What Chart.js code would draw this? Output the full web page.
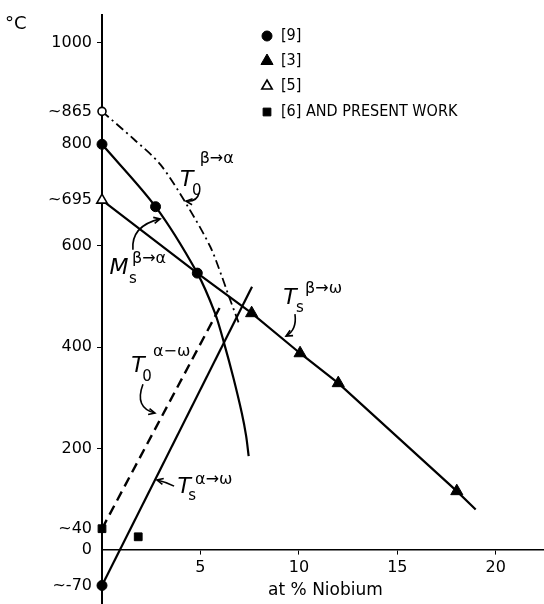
<!DOCTYPE html>
<html><head><meta charset="utf-8">
<script src="https://cdn.jsdelivr.net/npm/chart.js@4"></script>
<style>html,body{margin:0;padding:0;background:#fff}#wrap{width:544px;height:604px;position:relative}</style>
</head><body><div id="wrap"><canvas id="c"></canvas></div>
<script>
// ---- data ----
const xTickValues = [5, 10, 15, 20];
const yTickValues = [-70, 0, 42, 200, 400, 600, 690, 800, 865, 1000];
const yTickLabels = ['~-70', '0', '~40', '200', '400', '600', '~695', '800', '~865', '1000'];
const xTitle = 'at % Niobium';
const yUnit = '°C';

const msX = [0, 2.72, 4.84, 5.74, 6.2, 6.67, 7.1, 7.32, 7.45];
const msY = [800, 677, 546, 467, 408, 340, 270, 225, 185];
const t0baX = [0, 1.62, 2.97, 4.32, 5.5, 6.1, 6.4, 6.98];
const t0baY = [865, 810, 760, 680, 598, 538, 505, 444];
const tsbwX = [0, 4.84, 7.6, 10.06, 12.0, 18.02, 18.98];
const tsbwY = [690, 546, 467, 388, 329, 116, 80];
const t0awX = [0, 6.05];
const t0awY = [42, 483];
const tsawX = [0, 7.62];
const tsawY = [-70, 519];

const ref9X = [0, 2.72, 4.84, 0];
const ref9Y = [800, 677, 546, -70];
const ref3X = [7.6, 10.06, 12.0, 18.02];
const ref3Y = [467, 388, 329, 116];
const ref5X = [0];
const ref5Y = [690];
const ref6X = [0, 1.84];
const ref6Y = [42, 26];
const openX = [0];
const openY = [865];

const legendLabels = ['[9]', '[3]', '[5]', '[6] AND PRESENT WORK'];

// curve labels: main letter, subscript, superscript, anchor in data units
const curveLabels = [
  {main: 'T', sub: '0', sup: 'β→α', at: [4.30, 730], so: [10, 11], po: [13, -21]},
  {main: 'M', sub: 's', sup: 'β→α', at: [0.86, 556], so: [14, 11], po: [13, -9]},
  {main: 'T', sub: 's', sup: 'β→ω', at: [9.55, 497], so: [10, 10], po: [15, -9]},
  {main: 'T', sub: '0', sup: 'α−ω', at: [1.83, 363], so: [9, 11], po: [15, -14]},
  {main: 'T', sub: 's', sup: 'α→ω', at: [4.17, 124], so: [8, 9], po: [11, -7]}
];
// arrows: start, control, end in data units
const arrows = [
  [[4.93, 704], [4.82, 686], [4.27, 688]],
  [[1.57, 592], [1.47, 639], [2.95, 653]],
  [[9.80, 465], [9.91, 434], [9.35, 422]],
  [[2.08, 327], [1.63, 280], [2.69, 270]],
  [[3.66, 126], [3.25, 134], [2.79, 138]]
];

const zip = (xs, ys) => xs.map((v, i) => ({x: v, y: ys[i]}));
const FONT = "'DejaVu Sans', sans-serif";
const CFONT = "'DejaVu Sans Condensed', 'Liberation Sans Narrow', 'DejaVu Sans', sans-serif";

function lineDs(xs, ys, dash, width, tension) {
  return {data: zip(xs, ys), showLine: true, borderColor: '#000', borderWidth: width,
    borderDash: dash, pointRadius: 0, tension: tension, fill: false, clip: false, order: 2};
}
function markDs(xs, ys, style, r, filled) {
  return {data: zip(xs, ys), showLine: false, pointStyle: style, pointRadius: r,
    pointBackgroundColor: filled ? '#000' : '#fff', pointBorderColor: '#000',
    pointBorderWidth: filled ? 1 : 1.6, clip: false, order: 1};
}

const overlay = {
  id: 'overlay',
  afterDraw(chart) {
    const {ctx, scales: {x, y}} = chart;
    const P = (p) => [x.getPixelForValue(p[0]), y.getPixelForValue(p[1])];
    ctx.save();
    ctx.fillStyle = '#000'; ctx.strokeStyle = '#000';
    // unit
    ctx.font = '18px ' + FONT; ctx.textAlign = 'left'; ctx.textBaseline = 'middle';
    ctx.fillText(yUnit, 5, 24);
    // x title
    ctx.font = '17px ' + FONT;
    ctx.textAlign = 'center';
    ctx.fillText(xTitle, x.getPixelForValue(11.35), y.getPixelForValue(0) + 41);
    // legend
    const styles = [['circle', 5, true], ['triangle', 7, true], ['triangle', 6, false], ['rect', 5.5, true]];
    const rows = [36, 61, 86, 112];
    legendLabels.forEach((t, i) => {
      const [st, r, f] = styles[i];
      ctx.fillStyle = f ? '#000' : '#fff'; ctx.lineWidth = f ? 1 : 1.6; ctx.strokeStyle = '#000';
      Chart.helpers.drawPoint(ctx, {pointStyle: st, radius: r, rotation: 0, borderWidth: f ? 1 : 1.6}, 267, rows[i]);
      ctx.fillStyle = '#000';
      ctx.font = '16px ' + CFONT; ctx.textAlign = 'left'; ctx.textBaseline = 'middle';
      ctx.fillText(t, 281, rows[i]);
    });
    // curve labels
    curveLabels.forEach(l => {
      const [cx, cy] = P(l.at);
      ctx.textBaseline = 'middle';
      ctx.textAlign = 'center';
      ctx.font = 'italic 22px ' + FONT;
      ctx.fillText(l.main, cx, cy);
      ctx.font = '15px ' + FONT;
      ctx.fillText(l.sub, cx + l.so[0], cy + l.so[1]);
      ctx.textAlign = 'left';
      ctx.font = '16px ' + FONT;
      ctx.fillText(l.sup, cx + l.po[0], cy + l.po[1]);
    });
    // arrows
    ctx.lineWidth = 1.6;
    arrows.forEach(a => {
      const [s, c, e] = a.map(P);
      ctx.beginPath(); ctx.moveTo(s[0], s[1]); ctx.quadraticCurveTo(c[0], c[1], e[0], e[1]); ctx.stroke();
      const ang = Math.atan2(e[1] - c[1], e[0] - c[0]);
      const L = 7, w = 0.45;
      ctx.beginPath();
      ctx.moveTo(e[0] - L * Math.cos(ang - w), e[1] - L * Math.sin(ang - w));
      ctx.lineTo(e[0], e[1]);
      ctx.lineTo(e[0] - L * Math.cos(ang + w), e[1] - L * Math.sin(ang + w));
      ctx.stroke();
    });
    ctx.restore();
  }
};

new Chart(document.getElementById('c'), {
  type: 'scatter',
  data: {
    datasets: [
      lineDs(msX, msY, [], 2.2, 0.3),
      lineDs(t0baX, t0baY, [9, 4, 2, 4], 1.8, 0.3),
      lineDs(tsbwX, tsbwY, [], 2.2, 0),
      lineDs(t0awX, t0awY, [10, 6], 2.4, 0),
      lineDs(tsawX, tsawY, [], 2.2, 0),
      markDs(ref9X, ref9Y, 'circle', 5, true),
      markDs(ref3X, ref3Y, 'triangle', 7, true),
      markDs(ref5X, ref5Y, 'triangle', 6, false),
      markDs(ref6X, ref6Y, 'rect', 5.5, true),
      markDs(openX, openY, 'circle', 4, false)
    ]
  },
  options: {
    responsive: true, maintainAspectRatio: false, animation: false,
    layout: {autoPadding: false, padding: {top: 15, left: 0, right: 0, bottom: 0}},
    plugins: {legend: {display: false}, tooltip: {enabled: false}},
    scales: {
      x: {
        type: 'linear', min: 0, max: 22.45, position: {y: 0},
        afterBuildTicks: s => { s.ticks = xTickValues.map(v => ({value: v})); },
        afterFit: s => { s.paddingLeft = 0; s.paddingRight = 0; },
        grid: {drawOnChartArea: false, tickLength: 4, color: '#000', tickColor: '#000'},
        border: {display: true, color: '#000', width: 1.6},
        ticks: {autoSkip: false, maxRotation: 0, color: '#000', padding: 4, font: {family: FONT, size: 16}}
      },
      y: {
        type: 'linear', min: -106.5, max: 1055, position: 'left',
        afterBuildTicks: s => { s.ticks = yTickValues.map(v => ({value: v})); },
        afterFit: s => { s.width = 102; s.paddingTop = 0; s.paddingBottom = 0; },
        grid: {drawOnChartArea: false, tickLength: 5,
          tickColor: c => ([200, 400, 600, 1000].includes(c.tick && c.tick.value) ? '#000' : 'rgba(0,0,0,0)')},
        border: {display: true, color: '#000', width: 2},
        ticks: {autoSkip: false, color: '#000', padding: 5, font: {family: FONT, size: 16},
          callback: (v, i) => yTickLabels[i]}
      }
    }
  },
  plugins: [overlay]
});
</script>
</body></html>
